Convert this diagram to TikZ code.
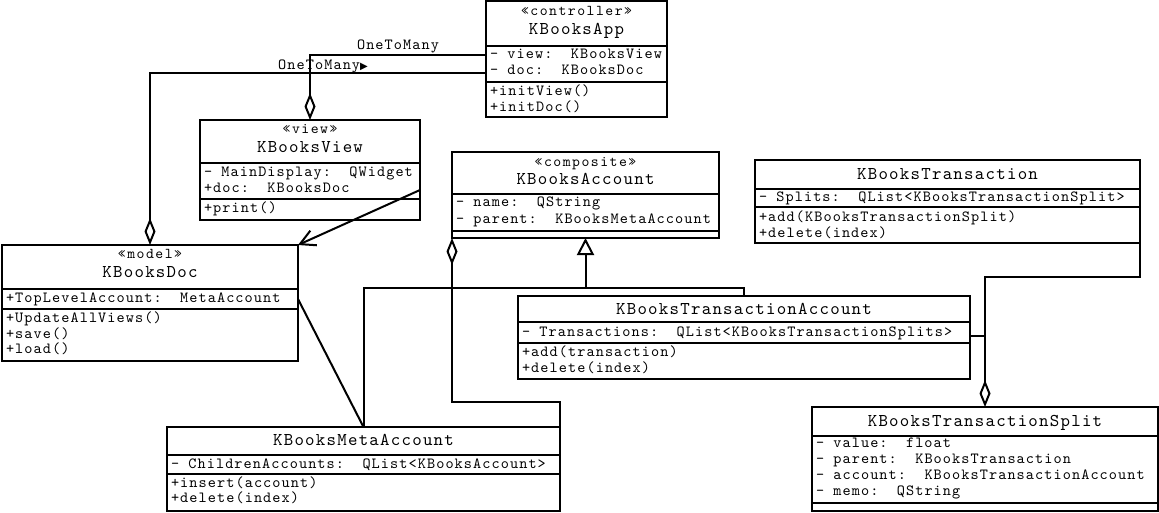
\documentclass[tikz,border=0pt]{standalone}
\usepackage{fontspec}
\newfontfamily\umlfont{lmmono10-regular.otf}[LetterSpace=7]
\newfontfamily\umltfont{lmmono10-regular.otf}[LetterSpace=7]
\newfontfamily\umlstfont{lmmono10-regular.otf}[LetterSpace=10]
\newfontfamily\symfont{DejaVu Sans}
\usetikzlibrary{arrows.meta}
\begin{document}
\begin{tikzpicture}[x=1pt,y=-1pt,line width=2pt,
  classbox/.style={draw,line width=2pt,anchor=north west,inner sep=0pt,outer sep=0pt},
  attr/.style={anchor=west,inner sep=0pt,font=\umlfont\fontsize{15.5}{17}\selectfont,text height=10pt,text depth=3pt},
  ttl/.style={anchor=center,inner sep=0pt,font=\umltfont\fontsize{18}{20}\selectfont,text height=11pt,text depth=3pt},
  stereo/.style={anchor=center,inner sep=0pt,font=\umlstfont\fontsize{15}{17}\selectfont,text height=9pt,text depth=3pt},
  lbl/.style={anchor=center,inner sep=0pt,font=\umlfont\fontsize{15.5}{17}\selectfont,text height=10pt,text depth=3pt},
  conn/.style={draw,line width=2pt},
  agg/.style={{Diamond[open,length=27pt,width=11pt]}-},
  nav/.style={-{Straight Barb[length=15pt,width=16pt]}},
  inh/.style={-{Triangle[open,length=17pt,width=17pt]}}
]
\path[fill=white,use as bounding box] (0,0) rectangle (1159,512);

% ---------- KBooksApp
\node[classbox,minimum width=181pt,minimum height=116pt] (app) at (486,1) {};
\draw (app.west |- 0,46) -- (app.east |- 0,46);
\draw (app.west |- 0,82) -- (app.east |- 0,82);
\node[stereo] (app-s) at (576.5,12) {«controller»};
\node[ttl] (app-t) at (576.5,30) {KBooksApp};
\node[attr] (app-a1) at (489,55) {- view:~~KBooksView};
\node[attr] (app-a2) at (489,71) {- doc:~~KBooksDoc};
\node[attr] (app-m1) at (489,92) {+initView()};
\node[attr] (app-m2) at (489,108) {+initDoc()};

% ---------- KBooksView
\node[classbox,minimum width=220pt,minimum height=100pt] (view) at (200,120) {};
\draw (view.west |- 0,163) -- (view.east |- 0,163);
\draw (view.west |- 0,199) -- (view.east |- 0,199);
\node[stereo] (view-s) at (310,130) {«view»};
\node[ttl] (view-t) at (310,148) {KBooksView};
\node[attr] (view-a1) at (203,173) {- MainDisplay:~~QWidget};
\node[attr] (view-a2) at (203,189) {+doc:~~KBooksDoc};
\node[attr] (view-m1) at (203,209) {+print()};

% ---------- KBooksDoc
\node[classbox,minimum width=296pt,minimum height=116pt] (doc) at (2,245) {};
\draw (doc.west |- 0,289) -- (doc.east |- 0,289);
\draw (doc.west |- 0,309) -- (doc.east |- 0,309);
\node[stereo] (doc-s) at (150,255) {«model»};
\node[ttl] (doc-t) at (150,273) {KBooksDoc};
\node[attr] (doc-a1) at (5,299) {+TopLevelAccount:~~MetaAccount};
\node[attr] (doc-m1) at (5,319) {+UpdateAllViews()};
\node[attr] (doc-m2) at (5,335) {+save()};
\node[attr] (doc-m3) at (5,350) {+load()};

% ---------- KBooksAccount
\node[classbox,minimum width=267pt,minimum height=86pt] (acc) at (452,152) {};
\draw (acc.west |- 0,194) -- (acc.east |- 0,194);
\draw (acc.west |- 0,231) -- (acc.east |- 0,231);
\node[stereo] (acc-s) at (585.5,163) {«composite»};
\node[ttl] (acc-t) at (585.5,180) {KBooksAccount};
\node[attr] (acc-a1) at (455,203) {- name:~~QString};
\node[attr] (acc-a2) at (455,220) {- parent:~~KBooksMetaAccount};

% ---------- KBooksTransaction
\node[classbox,minimum width=385pt,minimum height=83pt] (trans) at (755,160) {};
\draw (trans.west |- 0,189) -- (trans.east |- 0,189);
\draw (trans.west |- 0,207) -- (trans.east |- 0,207);
\node[ttl] (trans-t) at (947.5,175) {KBooksTransaction};
\node[attr] (trans-a1) at (758,198) {- Splits:~~QList<KBooksTransactionSplit>};
\node[attr] (trans-m1) at (758,218) {+add(KBooksTransactionSplit)};
\node[attr] (trans-m2) at (758,234) {+delete(index)};

% ---------- KBooksTransactionAccount
\node[classbox,minimum width=452pt,minimum height=83pt] (tacc) at (518,296) {};
\draw (tacc.west |- 0,322) -- (tacc.east |- 0,322);
\draw (tacc.west |- 0,343) -- (tacc.east |- 0,343);
\node[ttl] (tacc-t) at (744,310) {KBooksTransactionAccount};
\node[attr] (tacc-a1) at (521,333) {- Transactions:~~QList<KBooksTransactionSplits>};
\node[attr] (tacc-m1) at (521,353) {+add(transaction)};
\node[attr] (tacc-m2) at (521,369) {+delete(index)};

% ---------- KBooksMetaAccount
\node[classbox,minimum width=393pt,minimum height=84pt] (meta) at (167,427) {};
\draw (meta.west |- 0,455) -- (meta.east |- 0,455);
\draw (meta.west |- 0,474) -- (meta.east |- 0,474);
\node[ttl] (meta-t) at (363.5,441) {KBooksMetaAccount};
\node[attr] (meta-a1) at (170,465) {- ChildrenAccounts:~~QList<KBooksAccount>};
\node[attr] (meta-m1) at (170,484) {+insert(account)};
\node[attr] (meta-m2) at (170,499) {+delete(index)};

% ---------- KBooksTransactionSplit
\node[classbox,minimum width=346pt,minimum height=104pt] (split) at (812,407) {};
\draw (split.west |- 0,436) -- (split.east |- 0,436);
\draw (split.west |- 0,503) -- (split.east |- 0,503);
\node[ttl] (split-t) at (985,422) {KBooksTransactionSplit};
\node[attr] (split-a1) at (815,444) {- value:~~float};
\node[attr] (split-a2) at (815,460) {- parent:~~KBooksTransaction};
\node[attr] (split-a3) at (815,476) {- account:~~KBooksTransactionAccount};
\node[attr] (split-a4) at (815,492) {- memo:~~QString};

% ---------- connectors
\draw[conn,agg] (view.north) |- (app.west |- 0,55);
\node[lbl] (lbl1) at (398,46) {OneToMany};
\draw[conn,agg] (doc.north) |- (app.west |- 0,73);
\node[lbl] (lbl2) at (323,66) {OneToMany{\symfont\fontsize{10}{10}\selectfont ▶}};

\draw[conn,nav] (view.east |- 0,190) -- (doc.north east);
\draw[conn] (doc.east |- 0,299) -- (meta.north);

\draw[conn,inh] (meta.north) |- (acc.south |- 0,288) -- (acc.south);
\draw[conn] (tacc.north) |- (acc.south |- 0,288);

\draw[conn,agg] (acc.south west) -- (acc.south west |- 0,402) -| (meta.north east);

\draw[conn,agg] (split.north) |- (trans.south east |- 0,277) -- (trans.south east);
\coordinate (tj) at (split.north |- 0,336);
\draw[conn] (tacc.east |- 0,336) -- (tj);
\end{tikzpicture}
\end{document}
